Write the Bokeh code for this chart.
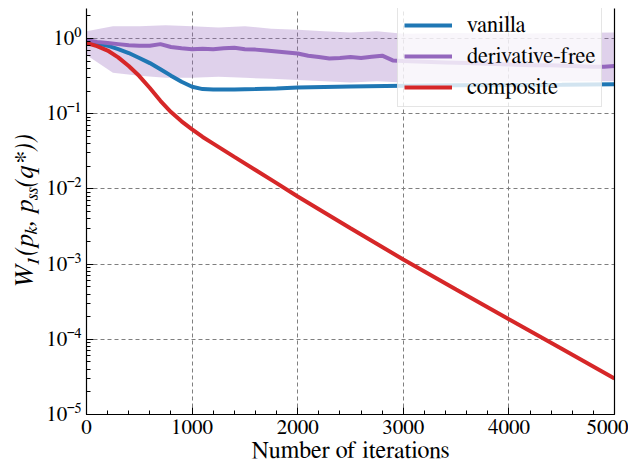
from bokeh.plotting import figure
from bokeh.models import (SingleIntervalTicker, LogTicker, CustomJSTickFormatter, Legend,
                          LegendItem, LogAxis, FixedTicker)
from bokeh.embed import file_html
from bokeh.resources import INLINE

# ---------------- data ----------------
iters = [0, 100, 200, 300, 400, 500, 600, 700, 800, 900, 1000, 1100, 1200, 1400, 1600,
         1800, 2000, 2500, 3000, 3500, 4000, 4500, 5000]
vanilla = [0.90, 0.86, 0.80, 0.72, 0.64, 0.55, 0.47, 0.39, 0.32, 0.265, 0.228, 0.212, 0.210,
           0.210, 0.212, 0.216, 0.222, 0.230, 0.235, 0.238, 0.240, 0.242, 0.245]
composite = [0.87, 0.79, 0.69, 0.56, 0.43, 0.316, 0.219, 0.148, 0.105, 0.079, 0.0617, 0.049,
             0.040, 0.0266, 0.0178, 0.0119, 0.0079, 0.0030, 0.00115, 0.00046, 0.000185,
             0.000075, 0.000030]

df_iters = [0, 100, 200, 300, 400, 500, 600, 700, 800, 900, 1000, 1100, 1200, 1300, 1400, 1500,
            1600, 1700, 1800, 1900, 2000, 2100, 2200, 2300, 2400, 2500, 2600, 2700, 2800, 2900,
            3000, 3200, 3400, 3600, 3800, 4000, 4200, 4400, 4600, 4800, 4900, 5000]
df_mean = [0.95, 0.90, 0.87, 0.84, 0.81, 0.80, 0.80, 0.84, 0.77, 0.74, 0.72, 0.73, 0.72, 0.74,
           0.75, 0.72, 0.71, 0.69, 0.67, 0.65, 0.63, 0.59, 0.565, 0.54, 0.55, 0.565, 0.55, 0.57,
           0.59, 0.51, 0.50, 0.49, 0.48, 0.47, 0.46, 0.45, 0.44, 0.44, 0.43, 0.42, 0.42, 0.43]

band_iters = [0, 250, 500, 750, 1000, 1250, 1500, 1750, 2000, 2250, 2500, 2750, 3000, 3500,
              4000, 4500, 5000]
df_upper = [1.25, 1.45, 1.45, 1.50, 1.45, 1.40, 1.45, 1.35, 1.30, 1.25, 1.20, 1.25, 1.15, 1.18,
            1.15, 1.18, 1.20]
df_lower = [0.60, 0.35, 0.32, 0.30, 0.30, 0.31, 0.30, 0.29, 0.28, 0.27, 0.26, 0.27, 0.26, 0.26,
            0.26, 0.27, 0.27]

x_label = "Number of iterations"
y_label = "W\u2081(p\u2096, p\u209b\u209b(q*))"
series_names = ["vanilla", "derivative-free", "composite"]
colors = ["#1f77b4", "#9467bd", "#d62728"]

FONT = "FreeSerif"

p = figure(frame_width=528, frame_height=406, y_axis_type="log",
           x_range=(0, 5000), y_range=(1e-5, 2.5),
           output_backend="svg", toolbar_location=None,
           min_border_left=86, min_border_right=14, min_border_top=8, min_border_bottom=0)
p.background_fill_color = "white"
p.border_fill_color = "white"
p.outline_line_color = None

# band + lines
p.varea(x=band_iters, y1=df_lower, y2=df_upper, fill_color=colors[1], fill_alpha=0.3)
r_van = p.line(iters, vanilla, line_color=colors[0], line_width=4)
r_df = p.line(df_iters, df_mean, line_color=colors[1], line_width=4)
r_comp = p.line(iters, composite, line_color=colors[2], line_width=4)

# axes
xa = p.xaxis[0]
xa.ticker = SingleIntervalTicker(interval=1000, num_minor_ticks=5)
ya = p.yaxis[0]
ya.ticker = LogTicker(num_minor_ticks=10)
ya.formatter = CustomJSTickFormatter(code="""
const e = Math.round(Math.log10(tick));
const sup = {"-":"\u207b","0":"\u2070","1":"\u00b9","2":"\u00b2","3":"\u00b3","4":"\u2074",
             "5":"\u2075","6":"\u2076","7":"\u2077","8":"\u2078","9":"\u2079"};
return "10" + String(e).split("").map(c => sup[c]).join("");
""")
for ax in (xa, ya):
    ax.major_tick_in = 7
    ax.major_tick_out = 0
    ax.minor_tick_in = 4
    ax.minor_tick_out = 0
    ax.axis_line_color = "black"
    ax.axis_line_width = 1.2
    ax.major_tick_line_color = "black"
    ax.minor_tick_line_color = "black"
    ax.major_label_text_font = FONT
    ax.major_label_text_font_size = "21px"
    ax.major_label_text_color = "black"
    ax.major_label_standoff = 5
    ax.axis_label_text_font = FONT
    ax.axis_label_text_color = "black"
xa.axis_label = x_label
xa.axis_label_text_font_size = "24px"
xa.axis_label_text_font_style = "normal"
xa.axis_label_standoff = 2
ya.axis_label = y_label
ya.axis_label_text_font_size = "27px"
ya.axis_label_text_font_style = "italic"
ya.axis_label_standoff = 5

right = LogAxis(ticker=FixedTicker(ticks=[]), axis_line_color="black", axis_line_width=1.2,
                major_tick_in=0, major_tick_out=0, minor_tick_in=0, minor_tick_out=0,
                major_label_text_font_size="0px")
p.add_layout(right, "right")

# grid
for g in (p.xgrid[0], p.ygrid[0]):
    g.grid_line_color = "#7f7f7f"
    g.grid_line_dash = "4 3"
    g.grid_line_width = 1
    g.minor_grid_line_color = None

legend = Legend(items=[LegendItem(label=series_names[0], renderers=[r_van]),
                       LegendItem(label=series_names[1], renderers=[r_df]),
                       LegendItem(label=series_names[2], renderers=[r_comp])],
                location=(311, 307), margin=0, padding=6, spacing=5,
                glyph_width=48, glyph_height=26, label_height=26, label_standoff=15,
                label_text_font=FONT, label_text_font_size="22.5px",
                label_text_color="black",
                border_line_color="#cccccc", border_line_width=1,
                background_fill_color="white", background_fill_alpha=0.8)
p.add_layout(legend, "center")

open("out.html", "w").write(file_html(p, INLINE))
